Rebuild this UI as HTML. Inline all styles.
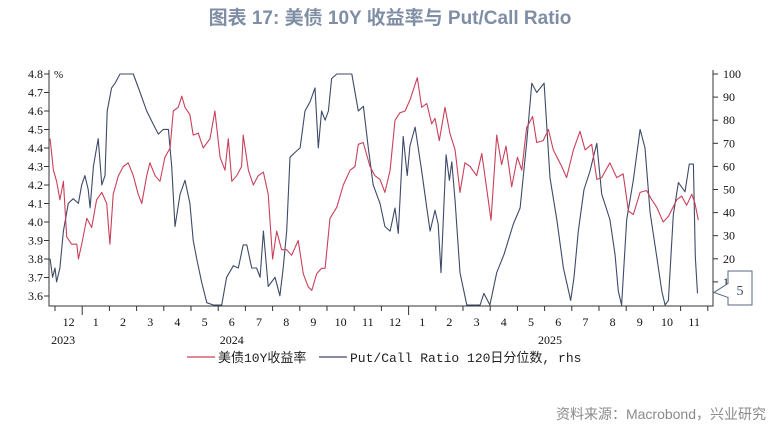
<!DOCTYPE html>
<html><head><meta charset="utf-8">
<style>
body{margin:0;background:#fff;}
svg text{font-family:"Liberation Serif","Noto Serif CJK SC",serif;}
</style></head>
<body>
<svg id="chart" width="779" height="428" viewBox="0 0 779 428" xmlns="http://www.w3.org/2000/svg">
<text x="390" y="24" text-anchor="middle" font-size="19" font-weight="bold" fill="#7f8ea4" style="font-family:'Liberation Sans','Noto Sans CJK SC',sans-serif">图表 17: 美债 10Y 收益率与 Put/Call Ratio</text>
<g id="axes"></g>
<g id="series"></g>
<g font-size="13">
<line x1="187" y1="357" x2="215" y2="357" stroke="#c9405a" stroke-width="1.2"/>
<text x="218" y="362" fill="#222" style="font-family:'Liberation Mono','Noto Sans CJK SC',monospace">美债10Y收益率</text>
<line x1="319" y1="357" x2="347" y2="357" stroke="#3d4a68" stroke-width="1.2"/>
<text x="350" y="362" fill="#222" style="font-family:'Liberation Mono','Noto Sans CJK SC',monospace">Put/Call Ratio 120日分位数, rhs</text>
</g>
<text x="766" y="419" text-anchor="end" font-size="14" fill="#8a8a8a" style="font-family:'Liberation Sans','Noto Sans CJK SC',sans-serif">资料来源：Macrobond，兴业研究</text>
</svg>
<script>
// time in months since 2023-12-01
const yieldT=[-0.18,-0.06,0.06,0.18,0.31,0.43,0.61,0.80,0.86,0.98,1.17,1.35,1.53,1.72,1.90,2.02,2.14,2.33,2.51,2.69,2.88,3.06,3.19,3.37,3.49,3.68,3.86,4.04,4.23,4.35,4.53,4.66,4.78,4.96,5.08,5.27,5.45,5.70,5.88,6.07,6.25,6.37,6.50,6.68,6.86,6.92,7.11,7.29,7.47,7.66,7.84,8.00,8.15,8.33,8.52,8.70,8.94,9.13,9.31,9.44,9.62,9.80,9.93,10.11,10.36,10.60,10.85,11.03,11.15,11.33,11.58,11.76,11.95,12.13,12.32,12.50,12.68,12.87,13.05,13.32,13.48,13.67,13.85,13.97,14.13,14.34,14.52,14.71,14.89,15.07,15.26,15.50,15.69,15.87,16.03,16.24,16.42,16.58,16.79,17.00,17.16,17.34,17.56,17.71,17.95,18.14,18.32,18.63,18.81,19.06,19.30,19.49,19.73,19.92,20.10,20.40,20.65,20.89,21.08,21.26,21.51,21.75,21.94,22.12,22.36,22.55,22.86,23.04,23.22,23.41,23.53,23.65];
const yieldV=[4.45,4.28,4.22,4.12,4.22,3.92,3.88,3.88,3.8,3.88,4.02,3.97,4.12,4.16,4.1,3.88,4.15,4.25,4.3,4.32,4.25,4.15,4.1,4.25,4.32,4.25,4.22,4.35,4.4,4.6,4.62,4.68,4.62,4.58,4.47,4.48,4.4,4.45,4.6,4.35,4.28,4.45,4.22,4.25,4.3,4.47,4.28,4.2,4.25,4.27,4.15,3.8,3.95,3.85,3.85,3.82,3.9,3.72,3.65,3.63,3.72,3.75,3.75,4.02,4.08,4.2,4.28,4.3,4.42,4.43,4.3,4.25,4.23,4.16,4.28,4.55,4.59,4.6,4.66,4.78,4.62,4.64,4.53,4.56,4.44,4.62,4.48,4.39,4.16,4.32,4.3,4.25,4.37,4.18,4.01,4.47,4.31,4.41,4.19,4.35,4.28,4.51,4.57,4.43,4.44,4.5,4.39,4.3,4.24,4.39,4.49,4.39,4.42,4.23,4.24,4.32,4.24,4.26,4.06,4.04,4.16,4.17,4.12,4.08,4.0,4.03,4.12,4.14,4.09,4.15,4.1,4.01];
const pcT=[-0.18,-0.09,0,0.06,0.18,0.31,0.49,0.67,0.86,0.98,1.10,1.22,1.29,1.41,1.59,1.72,1.84,1.92,2.08,2.21,2.39,2.88,3.13,3.37,3.62,3.80,3.98,4.17,4.29,4.41,4.60,4.78,4.96,5.08,5.21,5.39,5.58,5.82,6.13,6.31,6.56,6.74,6.92,7.05,7.23,7.41,7.54,7.66,7.84,8.09,8.27,8.39,8.52,8.64,8.82,9.01,9.19,9.38,9.56,9.68,9.80,9.93,10.05,10.17,10.36,10.91,11.15,11.34,11.52,11.70,11.95,12.13,12.32,12.50,12.62,12.80,12.95,13.05,13.24,13.48,13.67,13.79,13.97,14.09,14.19,14.38,14.50,14.59,14.71,14.89,15.14,15.63,15.77,15.99,16.24,16.51,16.85,17.10,17.34,17.53,17.71,17.98,18.20,18.45,18.69,18.96,19.08,19.24,19.45,19.67,19.92,20.10,20.40,20.59,20.71,20.83,21.02,21.26,21.51,21.69,21.88,22.12,22.31,22.43,22.55,22.73,22.92,23.16,23.32,23.47,23.54,23.62];
const pcV=[20,12,16,10,16,32,44,46,44,52,56,50,42,60,72,52,56,84,94,96,100,100,92,84,78,74,76,76,60,34,48,54,44,28,20,10,1,0,0,12,17,16,26,26,16,16,12,32,8,12,4,16,32,64,66,68,84,88,94,68,84,80,84,98,100,100,84,86,68,52,44,34,32,42,31,73,56,69,77,58,42,32,41,35,14,65,54,62,45,14,0,0,5,0,14,22,35,42,70,96,92,96,55,37,16,2,12,32,50,58,70,48,37,22,6,0,37,54,76,68,40,21,6,0,2,39,53,49,61,61,21,5];
const leftTicks=[3.6,3.7,3.8,3.9,4.0,4.1,4.2,4.3,4.4,4.5,4.6,4.7,4.8];
const rightTicks=[10,20,30,40,50,60,70,80,90,100];
const monthLabels=["12","1","2","3","4","5","6","7","8","9","10","11","12","1","2","3","4","5","6","7","8","9","10","11"];
const yearLabels=["2023","2024","2025"];
const yearCenters=[0.3,6.5,18.2];
const lastPc=5;

const NS="http://www.w3.org/2000/svg";
const L=49,R=713,T=70,B=306;
const xm=m=>55+m*27.2;
const yl=v=>74+(4.8-v)*185;
const yr=v=>305-v*2.31;
const ax=document.getElementById('axes'),se=document.getElementById('series');
function mk(tag,attrs,parent){const e=document.createElementNS(NS,tag);for(const k in attrs)e.setAttribute(k,attrs[k]);parent.appendChild(e);return e;}
const axl=mk('path',{d:`M${L},${T}V${B}H${R}V${T}`,fill:'none',stroke:'#333','stroke-width':1},ax);


leftTicks.forEach(v=>{
  const y=yl(v);
  mk('line',{x1:L-5,x2:L,y1:y,y2:y,stroke:'#333'},ax);
  const t=mk('text',{x:L-6,y:y+4,'text-anchor':'end','font-size':12,fill:'#111'},ax);
  t.textContent=v.toFixed(1);
  
  
});
const pct=mk('text',{x:54,y:78,'font-size':11,fill:'#111'},ax);pct.textContent='%';


rightTicks.forEach(v=>{
  const y=yr(v);
  mk('line',{x1:R,x2:R+5,y1:y,y2:y,stroke:'#333'},ax);
  const t=mk('text',{x:R+10,y:y+4,'font-size':12,fill:'#111'},ax);
  t.textContent=v;
  
  
});
monthLabels.forEach((lab,i)=>{
  const x=xm(i);
  const long=(lab==="1"||i===0);
  mk('line',{x1:x,x2:x,y1:B,y2:B+(lab==="1"?9:5),stroke:'#333'},ax);
  const t=mk('text',{x:xm(i+0.5),y:B+20,'text-anchor':'middle','font-size':12,fill:'#111'},ax);
  t.textContent=lab;
  
  
});
mk('line',{x1:xm(24),x2:xm(24),y1:B,y2:B+5,stroke:'#333'},ax);
yearLabels.forEach((lab,i)=>{
  const t=mk('text',{x:xm(yearCenters[i]),y:B+38,'text-anchor':'middle','font-size':12,fill:'#111'},ax);
  t.textContent=lab;
  
  
});
function line(ts,vs,f,col,name){
  const d=ts.map((t,i)=>(i?'L':'M')+xm(t).toFixed(1)+','+f(vs[i]).toFixed(1)).join('');
  const p=mk('path',{d:d,fill:'none',stroke:col,'stroke-width':1.1,'stroke-linejoin':'round'},se);
  
  
}
line(pcT,pcV,yr,'#3d4a68','putcall-line');
line(yieldT,yieldV,yl,'#c9405a','yield-line');
// callout
const cy=yr(lastPc);
const cb=mk('path',{d:`M${R+1},${cy-1}L728,${cy-10}V271H752V305H728V${cy+4}Z`,fill:'#fff',stroke:'#5a6580','stroke-width':1},ax);


const ct=mk('text',{x:740,y:295,'text-anchor':'middle','font-size':14,fill:'#3d4a68'},ax);
ct.textContent=lastPc;


</script>
</body></html>
